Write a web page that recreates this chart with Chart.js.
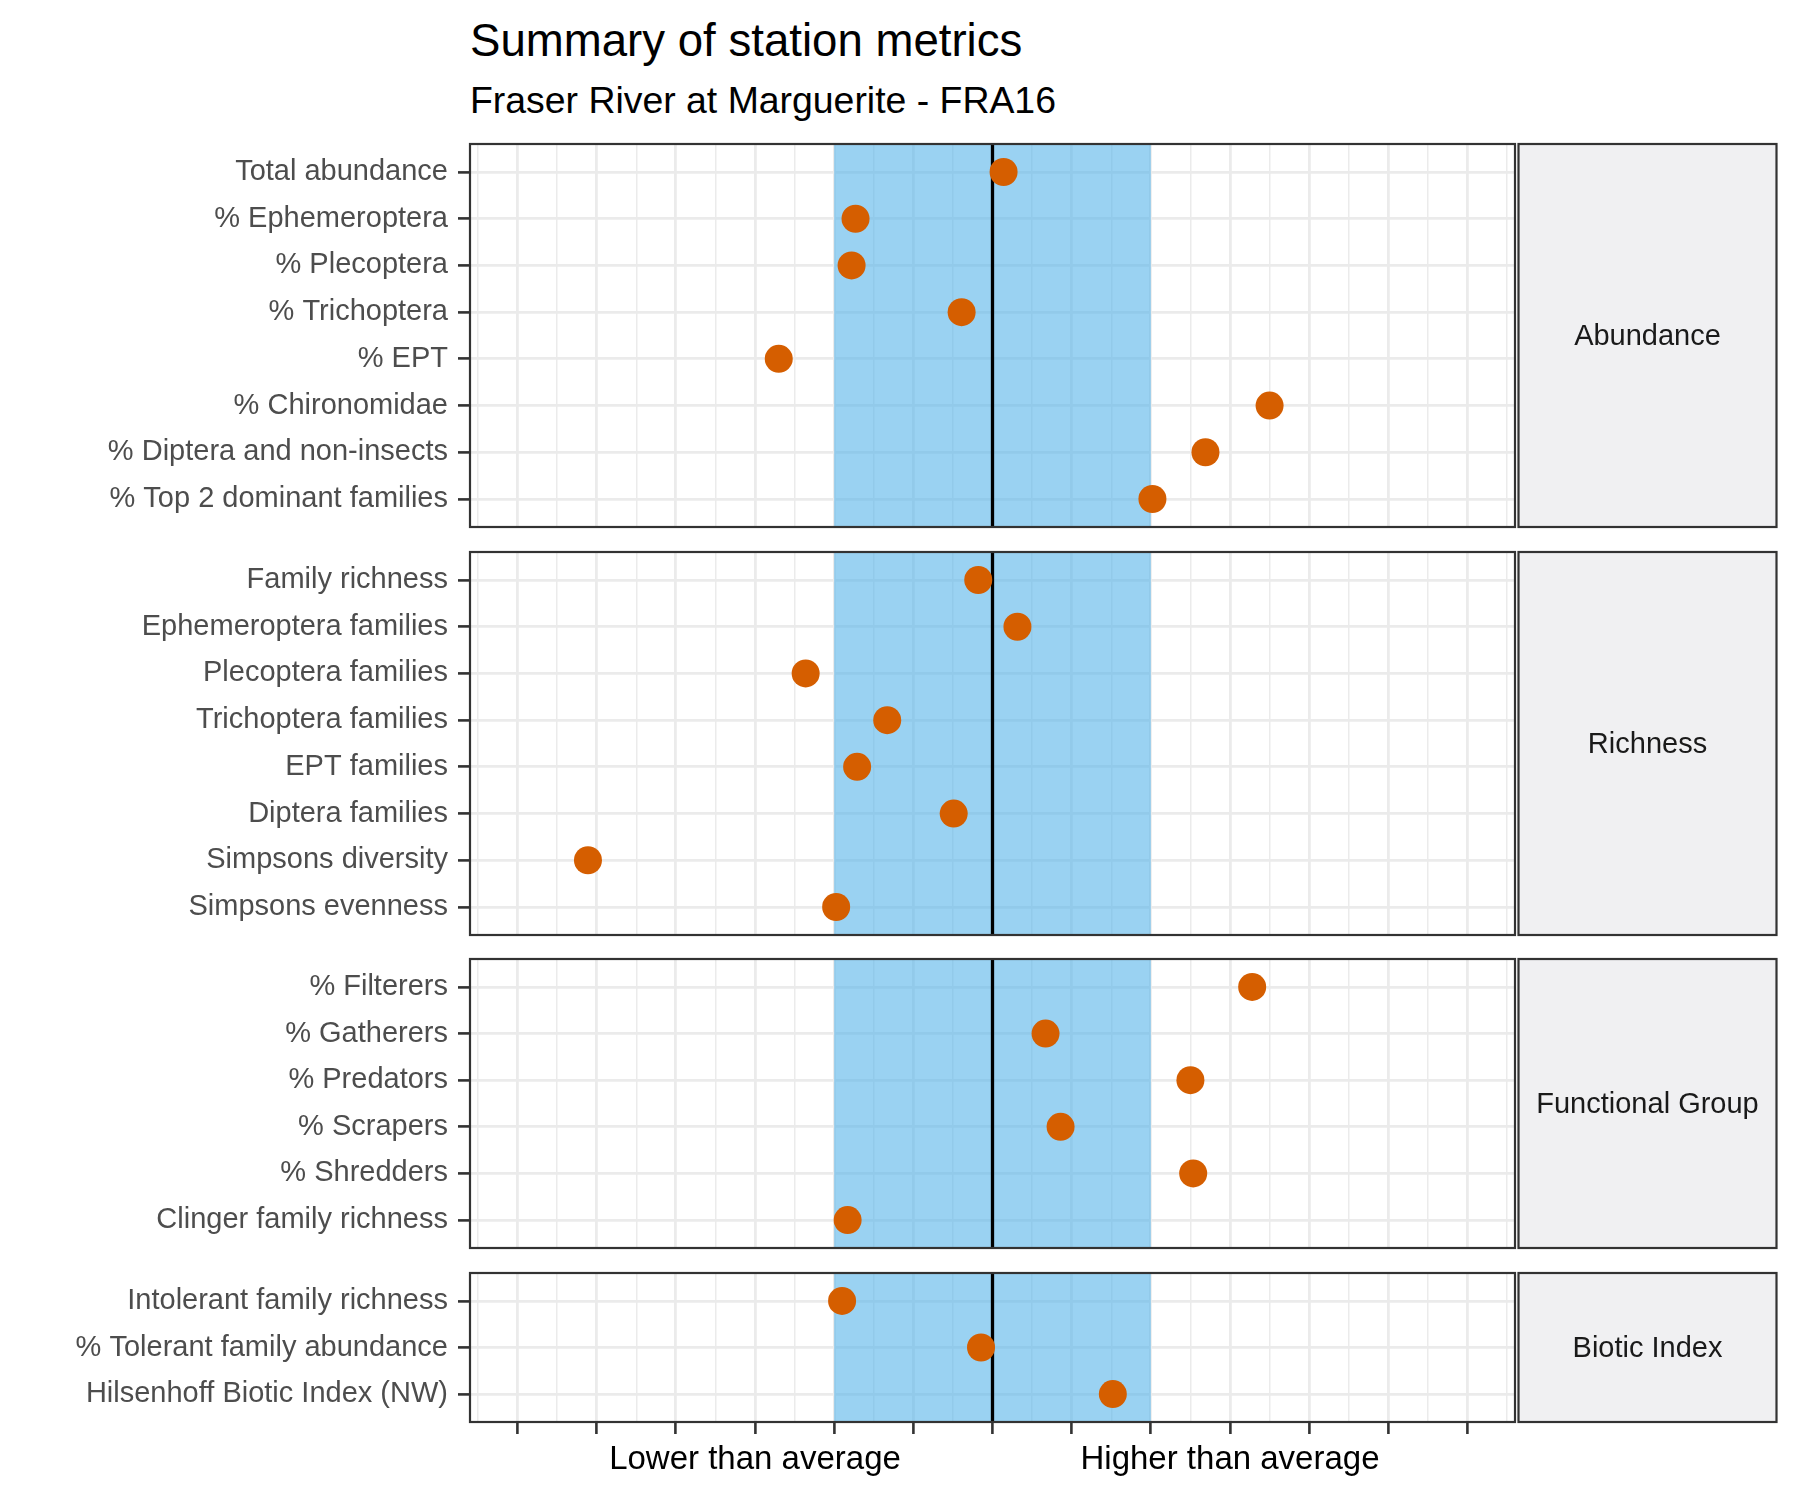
<!DOCTYPE html>
<html>
<head>
<meta charset="utf-8">
<script src="https://cdn.jsdelivr.net/npm/chart.js@4.4.1/dist/chart.umd.min.js"></script>
<style>
  html, body { margin: 0; padding: 0; background: #ffffff; }
  #wrap { position: relative; width: 1800px; height: 1500px; overflow: hidden;
          font-family: "Liberation Sans", Arial, Helvetica, sans-serif; background: #ffffff; }
  .t { position: absolute; white-space: nowrap; line-height: 1; color: #000000; }
  canvas { position: absolute; left: 0; }
</style>
</head>
<body>
<div id="wrap">
  <div class="t" id="title" style="left:470px; top:18px; font-size:45.6px;">Summary of station metrics</div>
  <div class="t" id="subtitle" style="left:470px; top:82px; font-size:37.4px;">Fraser River at Marguerite - FRA16</div>
</div>
<script>
// ---------------- data ----------------
const groupNames = ['Abundance', 'Richness', 'Functional Group', 'Biotic Index'];

const abundanceMetrics = ['Total abundance', '% Ephemeroptera', '% Plecoptera', '% Trichoptera',
  '% EPT', '% Chironomidae', '% Diptera and non-insects', '% Top 2 dominant families'];
const abundanceValues = [0.14, -1.73, -1.78, -0.39, -2.70, 3.50, 2.69, 2.02];

const richnessMetrics = ['Family richness', 'Ephemeroptera families', 'Plecoptera families',
  'Trichoptera families', 'EPT families', 'Diptera families', 'Simpsons diversity', 'Simpsons evenness'];
const richnessValues = [-0.18, 0.315, -2.36, -1.33, -1.71, -0.49, -5.11, -1.975];

const functionalMetrics = ['% Filterers', '% Gatherers', '% Predators', '% Scrapers',
  '% Shredders', 'Clinger family richness'];
const functionalValues = [3.28, 0.67, 2.50, 0.86, 2.535, -1.83];

const bioticMetrics = ['Intolerant family richness', '% Tolerant family abundance', 'Hilsenhoff Biotic Index (NW)'];
const bioticValues = [-1.90, -0.145, 1.52];

const xMajorTicks = [-6, -5, -4, -3, -2, -1, 0, 1, 2, 3, 4, 5, 6];
const xMinorTicks = [-6.5, -5.5, -4.5, -3.5, -2.5, -1.5, -0.5, 0.5, 1.5, 2.5, 3.5, 4.5, 5.5, 6.5];
const xLabelTicks = [-3, 3];
const xLabelTexts = ['Lower than average', 'Higher than average'];
const averageBand = [-2, 2];
const averageLine = 0;
const xLimits = [-6.6, 6.6];

// ---------------- layout / style ----------------
const FONT = '"Liberation Sans", Arial, Helvetica, sans-serif';
const PANEL_LEFT = 470, PANEL_RIGHT = 1515, STRIP_LEFT = 1518.5, STRIP_RIGHT = 1776.5;
const FIRST_TOP = 144, ROW = 46.65, EXPAND = 0.6, GAP = 24.7, MARGIN = 4, X_AXIS_H = 78;

Chart.defaults.font.family = FONT;

const panels = [
  { name: groupNames[0], labels: abundanceMetrics, values: abundanceValues },
  { name: groupNames[1], labels: richnessMetrics, values: richnessValues },
  { name: groupNames[2], labels: functionalMetrics, values: functionalValues },
  { name: groupNames[3], labels: bioticMetrics, values: bioticValues }
];

const gridTicks = xMinorTicks.concat(xMajorTicks).sort((a, b) => a - b);
const isMajor = v => Math.abs(v - Math.round(v)) < 1e-9;

const panelDecor = {
  id: 'panelDecor',
  beforeDatasetsDraw(chart) {
    const { ctx, chartArea: a, scales: { x } } = chart;
    ctx.save();
    const x1 = x.getPixelForValue(averageBand[0]);
    const x2 = x.getPixelForValue(averageBand[1]);
    ctx.fillStyle = 'rgba(86,180,233,0.6)';
    ctx.fillRect(x1, a.top, x2 - x1, a.bottom - a.top);
    const x0 = x.getPixelForValue(averageLine);
    ctx.strokeStyle = '#000000';
    ctx.lineWidth = 3.3;
    ctx.beginPath();
    ctx.moveTo(x0, a.top);
    ctx.lineTo(x0, a.bottom);
    ctx.stroke();
    ctx.restore();
  },
  afterDatasetsDraw(chart, args, opts) {
    const { ctx, chartArea: a } = chart;
    ctx.save();
    ctx.strokeStyle = '#333333';
    ctx.lineWidth = 2.2;
    ctx.strokeRect(a.left, a.top, a.right - a.left, a.bottom - a.top);
    ctx.fillStyle = '#F0F0F2';
    ctx.fillRect(STRIP_LEFT, a.top, STRIP_RIGHT - STRIP_LEFT, a.bottom - a.top);
    ctx.strokeRect(STRIP_LEFT, a.top, STRIP_RIGHT - STRIP_LEFT, a.bottom - a.top);
    ctx.fillStyle = '#1A1A1A';
    ctx.font = '29px ' + FONT;
    ctx.textAlign = 'center';
    ctx.textBaseline = 'middle';
    ctx.fillText(opts.label, (STRIP_LEFT + STRIP_RIGHT) / 2, (a.top + a.bottom) / 2 + 1);
    ctx.restore();
  }
};

const wrap = document.getElementById('wrap');
let panelTop = FIRST_TOP;

panels.forEach((p, i) => {
  const n = p.labels.length;
  const h = Math.round(ROW * (n - 1 + 2 * EXPAND));
  const isLast = i === panels.length - 1;
  const cTop = Math.round(panelTop) - MARGIN;
  const cH = h + MARGIN + (isLast ? X_AXIS_H : MARGIN);

  const canvas = document.createElement('canvas');
  canvas.width = 1800;
  canvas.height = cH;
  canvas.style.top = cTop + 'px';
  canvas.style.width = '1800px';
  canvas.style.height = cH + 'px';
  wrap.appendChild(canvas);

  new Chart(canvas, {
    type: 'scatter',
    data: {
      datasets: [{
        data: p.values.map((v, k) => ({ x: v, y: k })),
        backgroundColor: '#D55E00',
        borderWidth: 0,
        pointRadius: 14,
        pointHoverRadius: 14,
        pointBorderWidth: 0
      }]
    },
    options: {
      responsive: false,
      animation: false,
      devicePixelRatio: 1,
      events: [],
      layout: {
        autoPadding: false,
        padding: { top: MARGIN, bottom: isLast ? 0 : MARGIN, left: 0, right: 1800 - PANEL_RIGHT }
      },
      plugins: {
        legend: { display: false },
        tooltip: { enabled: false },
        panelDecor: { label: p.name }
      },
      scales: {
        x: {
          type: 'linear',
          min: xLimits[0],
          max: xLimits[1],
          afterBuildTicks: s => { s.ticks = gridTicks.map(v => ({ value: v })); },
          afterFit: s => {
            s.height = isLast ? X_AXIS_H : 0;
            s.paddingLeft = 0; s.paddingRight = 0; s.paddingTop = 0; s.paddingBottom = 0;
          },
          border: { display: false },
          grid: {
            color: '#EBEBEB',
            lineWidth: c => (c.tick && isMajor(c.tick.value)) ? 2.8 : 1.5,
            drawTicks: isLast,
            tickLength: 12,
            tickWidth: 2.6,
            tickColor: c => (c.tick && isMajor(c.tick.value)) ? '#333333' : 'rgba(0,0,0,0)'
          },
          ticks: {
            display: isLast,
            autoSkip: false,
            maxRotation: 0,
            minRotation: 0,
            padding: 6,
            color: '#000000',
            font: { size: 33, family: FONT },
            callback: v => {
              const k = xLabelTicks.findIndex(t => Math.abs(t - v) < 1e-9);
              return k >= 0 ? xLabelTexts[k] : '';
            }
          }
        },
        y: {
          type: 'linear',
          reverse: true,
          min: -EXPAND,
          max: n - 1 + EXPAND,
          afterBuildTicks: s => { s.ticks = p.labels.map((_, k) => ({ value: k })); },
          afterFit: s => {
            s.width = PANEL_LEFT;
            s.paddingLeft = 0; s.paddingRight = 0; s.paddingTop = 0; s.paddingBottom = 0;
          },
          border: { display: false },
          grid: {
            color: '#EBEBEB',
            lineWidth: 2.8,
            drawTicks: true,
            tickLength: 12,
            tickWidth: 2.6,
            tickColor: '#333333'
          },
          ticks: {
            autoSkip: false,
            padding: 10,
            color: '#4D4D4D',
            font: { size: 29, family: FONT },
            callback: v => p.labels[Math.round(v)]
          }
        }
      }
    },
    plugins: [panelDecor]
  });

  panelTop += h + GAP;
});
</script>
</body>
</html>
